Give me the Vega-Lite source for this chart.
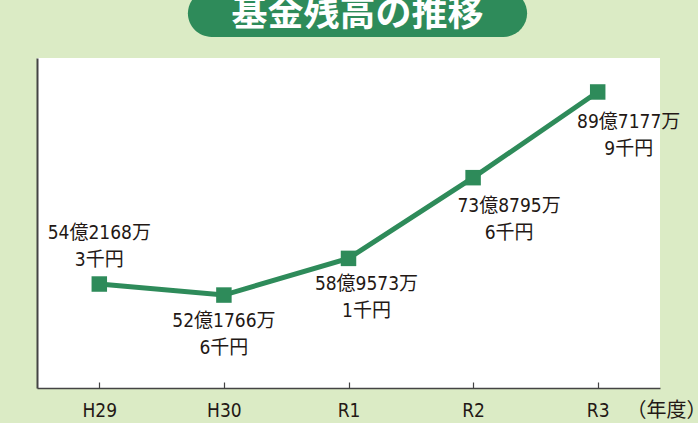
{
  "$schema": "https://vega.github.io/schema/vega-lite/v6.json",
  "autosize": "none",
  "width": 623,
  "height": 330,
  "padding": {"left": 37, "top": 58, "right": 38, "bottom": 35},
  "background": "#dbebc5",
  "config": {
    "view": {"fill": "white", "stroke": null},
    "text": {"font": "DejaVu Sans Condensed, Noto Sans CJK JP", "fontSize": 19, "color": "#231815", "lineBreak": "\n", "lineHeight": 27, "baseline": "middle", "align": "center"}
  },
  "layer": [
    {
      "data": {
        "values": [
          {"year": "H29", "value": 54.22, "label": "54億2168万\n3千円"},
          {"year": "H30", "value": 52.18, "label": "52億1766万\n6千円"},
          {"year": "R1", "value": 58.96, "label": "58億9573万\n1千円"},
          {"year": "R2", "value": 73.88, "label": "73億8795万\n6千円"},
          {"year": "R3", "value": 89.72, "label": "89億7177万\n9千円"}
        ]
      },
      "encoding": {
        "x": {
          "field": "year", "type": "ordinal", "sort": null,
          "scale": {"type": "point", "padding": 0.5, "domain": ["H29", "H30", "R1", "R2", "R3"]},
          "axis": {
            "title": "（年度）", "titleFont": "Noto Sans CJK JP", "titleFontSize": 20, "titleFontWeight": "normal", "titleColor": "#231815",
            "titleX": 589, "titleY": 22, "titleAlign": "left", "titleBaseline": "middle", "titleAnchor": null,
            "labelAngle": 0, "labelFont": "DejaVu Sans Condensed", "labelFontSize": 19, "labelColor": "#231815",
            "labelBaseline": "middle", "labelPadding": 28,
            "domainColor": "#444444", "domainWidth": 1.5, "tickColor": "#444444", "tickWidth": 1.2, "tickSize": -6,
            "grid": false
          }
        },
        "y": {
          "field": "value", "type": "quantitative",
          "scale": {"domain": [35, 96], "nice": false, "zero": false},
          "axis": {"title": null, "labels": false, "ticks": false, "grid": false, "domainColor": "#444444", "domainWidth": 2}
        }
      },
      "layer": [
        {
          "mark": {"type": "line", "color": "#2e8b5a", "strokeWidth": 5}
        },
        {
          "mark": {"type": "point", "shape": "square", "filled": true, "size": 240, "color": "#2e8b5a", "opacity": 1}
        },
        {
          "transform": [{"filter": "datum.year === 'H29'"}],
          "mark": {"type": "text", "dy": -51},
          "encoding": {"text": {"field": "label"}}
        },
        {
          "transform": [{"filter": "datum.year === 'H30'"}],
          "mark": {"type": "text", "dy": 26},
          "encoding": {"text": {"field": "label"}}
        },
        {
          "transform": [{"filter": "datum.year === 'R1'"}],
          "mark": {"type": "text", "dy": 26, "dx": 18},
          "encoding": {"text": {"field": "label"}}
        },
        {
          "transform": [{"filter": "datum.year === 'R2'"}],
          "mark": {"type": "text", "dy": 28, "dx": 36},
          "encoding": {"text": {"field": "label"}}
        },
        {
          "transform": [{"filter": "datum.year === 'R3'"}],
          "mark": {"type": "text", "dy": 30, "dx": 31},
          "encoding": {"text": {"field": "label"}}
        }
      ]
    },
    {
      "data": {"values": [{"title": "基金残高の推移"}]},
      "mark": {"type": "rect", "color": "#2e8b5a", "cornerRadius": 24, "xOffset": -36, "x2Offset": 54, "clip": false},
      "encoding": {
        "x": {"datum": "H30", "type": "ordinal"},
        "x2": {"datum": "R2"},
        "y": {"datum": 108.6, "type": "quantitative"},
        "y2": {"datum": 99.9}
      }
    },
    {
      "data": {"values": [{"title": "基金残高の推移"}]},
      "mark": {"type": "text", "font": "Noto Sans CJK JP", "fontWeight": "bold", "fontSize": 36, "color": "white", "dx": 9, "clip": false},
      "encoding": {
        "x": {"datum": "R1", "type": "ordinal"},
        "y": {"datum": 104.0, "type": "quantitative"},
        "text": {"field": "title"}
      }
    }
  ]
}
